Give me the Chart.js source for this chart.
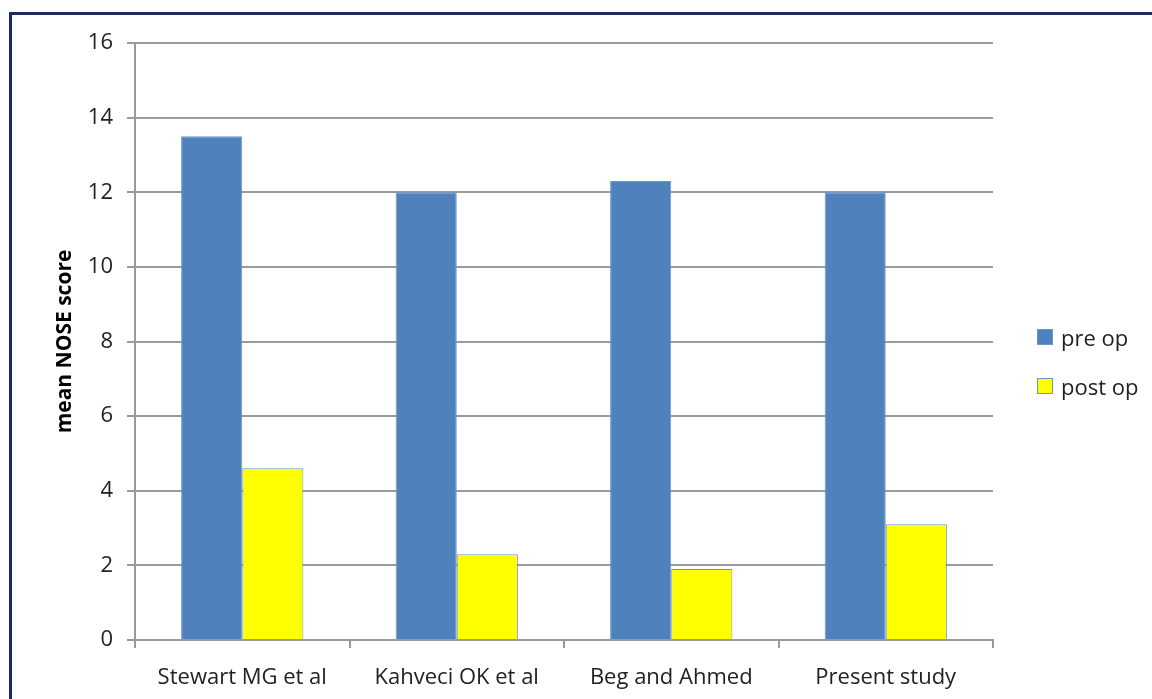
<!DOCTYPE html>
<html>
<head>
<meta charset="utf-8">
<script src="https://cdn.jsdelivr.net/npm/chart.js@4.4.1/dist/chart.umd.min.js"></script>
<style>
    html, body { margin: 0; padding: 0; background: #fff; }
    #wrap { position: relative; width: 1152px; height: 699px; overflow: hidden; font-family: "Open Sans", sans-serif; }
    #frame {
        position: absolute; left: 9px; top: 12px; width: 1200px; height: 800px;
        border-left: 3px solid #1f2b5e; border-top: 3px solid #1f2b5e;
    }
    #chart { position: absolute; left: 0; top: 0; }
    #legend { position: absolute; left: 1037px; top: 322px; margin: 0; padding: 0; list-style: none; }
    #legend li { display: flex; align-items: center; height: 30px; margin-bottom: 19px; font-size: 22px; color: #222; }
    #legend .box { width: 14px; height: 14px; margin-right: 8px; border: 1px solid #6b95c8; }
</style>
</head>
<body>
<div id="wrap">
    <div id="frame"></div>
    <canvas id="chart" width="1152" height="699"></canvas>
    <ul id="legend"></ul>
</div>
<script>
const studies = ['Stewart MG et al', 'Kahveci OK et al', 'Beg and Ahmed', 'Present study'];
const preOp = [13.5, 12.0, 12.3, 12.0];
const postOp = [4.6, 2.3, 1.9, 3.1];
const yTicks = [0, 2, 4, 6, 8, 10, 12, 14, 16];

const font = '"Open Sans", sans-serif';
const gridColor = '#9a9a9a';

const chart = new Chart(document.getElementById('chart'), {
    type: 'bar',
    data: {
        labels: studies,
        datasets: [{
            label: 'pre op',
            data: preOp,
            backgroundColor: '#4f81bd',
            borderColor: '#6b95c8',
            borderWidth: 1
        }, {
            label: 'post op',
            data: postOp,
            backgroundColor: '#ffff00',
            borderColor: '#6b95c8',
            borderWidth: 1
        }]
    },
    options: {
        responsive: false,
        animation: false,
        layout: { padding: { top: 43, right: 159, bottom: 5, left: 0 } },
        categoryPercentage: 0.57,
        barPercentage: 1.0,
        scales: {
            x: {
                afterFit: scale => { scale.height = 54; },
                grid: {
                    offset: true,
                    drawOnChartArea: false,
                    drawTicks: true,
                    tickLength: 8,
                    color: gridColor,
                    lineWidth: 2
                },
                border: { color: gridColor, width: 2 },
                ticks: { color: '#222', font: { family: font, size: 22 }, padding: 17 }
            },
            y: {
                min: 0,
                max: 16,
                afterFit: scale => { scale.width = 135; },
                afterBuildTicks: scale => { scale.ticks = yTicks.map(v => ({ value: v })); },
                grid: { color: gridColor, lineWidth: 2, tickLength: 8 },
                border: { color: gridColor, width: 2 },
                ticks: { color: '#222', font: { family: font, size: 22 }, padding: 14 },
                title: {
                    display: true,
                    text: 'mean NOSE score',
                    color: '#000',
                    font: { family: font, size: 21, weight: 'bold' },
                    padding: { top: 52, bottom: 0 }
                }
            }
        },
        plugins: {
            legend: { display: false },
            tooltip: { enabled: false }
        }
    }
});

// legend built from the datasets
const legendEl = document.getElementById('legend');
chart.data.datasets.forEach(ds => {
    const li = document.createElement('li');
    const box = document.createElement('span');
    box.className = 'box';
    box.style.background = ds.backgroundColor;
    li.appendChild(box);
    li.appendChild(document.createTextNode(ds.label));
    legendEl.appendChild(li);
});
</script>
</body>
</html>
